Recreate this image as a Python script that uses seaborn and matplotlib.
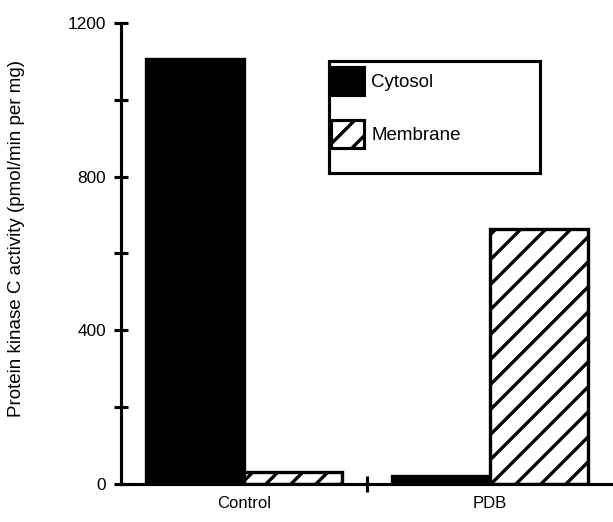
import matplotlib
matplotlib.use("Agg")
import matplotlib.pyplot as plt
from matplotlib.patches import Patch, Rectangle
import seaborn as sns
import pandas as pd

groups = ["Control", "PDB"]
compartments = ["Cytosol", "Membrane"]
cytosol = [1105, 22]
membrane = [30, 665]
y_major = [0, 400, 800, 1200]
y_minor = [200, 600, 1000]

rows = []
for g, c, m in zip(groups, cytosol, membrane):
    rows.append({"group": g, "compartment": "Cytosol", "value": c})
    rows.append({"group": g, "compartment": "Membrane", "value": m})
df = pd.DataFrame(rows)

sns.set_theme(style="white")
plt.rcParams["font.family"] = ["Liberation Sans", "DejaVu Sans"]
plt.rcParams["hatch.linewidth"] = 1.6
plt.rcParams["hatch.color"] = "black"
plt.rcParams["text.color"] = "black"
plt.rcParams["axes.labelcolor"] = "black"
plt.rcParams["xtick.color"] = "black"
plt.rcParams["ytick.color"] = "black"

DPI = 150
fig = plt.figure(figsize=(613 / DPI, 522 / DPI), dpi=DPI)
ax = fig.add_axes([121 / 613, 1 - 484 / 522, 1 - 121 / 613, (484 - 23) / 522])

sns.barplot(data=df, x="group", y="value", hue="compartment",
            palette={"Cytosol": "black", "Membrane": "white"},
            edgecolor="black", linewidth=1.6, saturation=1,
            legend=False, ax=ax, width=0.8)
for bar in ax.containers[1]:
    bar.set_hatch("//")

ax.set_xlim(-0.5, 1.5)
ax.set_ylim(0, 1200)
for s in ["top", "right"]:
    ax.spines[s].set_visible(False)
for s in ["left", "bottom"]:
    ax.spines[s].set_linewidth(1.5)
    ax.spines[s].set_color("black")

ax.set_yticks(y_major)
ax.set_yticks(y_minor, minor=True)
ax.set_yticklabels([str(v) for v in y_major], fontsize=8.3)
ax.tick_params(axis="y", which="both", direction="inout", length=6.5,
               width=1.5, color="black", pad=4, left=True)
ax.set_xticks([0, 1])
ax.set_xticklabels(groups, fontsize=8)
ax.set_xticks([0.5], minor=True)
ax.tick_params(axis="x", which="major", length=0, pad=6)
ax.tick_params(axis="x", which="minor", direction="inout", length=8,
               width=1.5, color="black", bottom=True)
ax.set_xlabel("")
ax.set_ylabel("Protein kinase C activity (pmol/min per mg)", fontsize=9)
ax.yaxis.set_label_coords((25 - 121) / 492, (484 - 238) / 461)

# legend
fig.patches.append(Rectangle((329 / 613, 1 - 173 / 522), 211 / 613, 112 / 522,
                             transform=fig.transFigure, fill=False,
                             edgecolor="black", linewidth=1.5))
handles = [Patch(facecolor="black", edgecolor="black", linewidth=1.5, label="Cytosol"),
           Patch(facecolor="white", edgecolor="black", linewidth=1.5, hatch="//", label="Membrane")]
fig.legend(handles=handles, loc="upper left",
           bbox_to_anchor=(331 / 613, 1 - 67 / 522), frameon=False,
           borderpad=0, borderaxespad=0, fontsize=9,
           handlelength=1.76, handleheight=1.9, labelspacing=1.35,
           handletextpad=0.4)

fig.savefig("out.png", dpi=DPI)
